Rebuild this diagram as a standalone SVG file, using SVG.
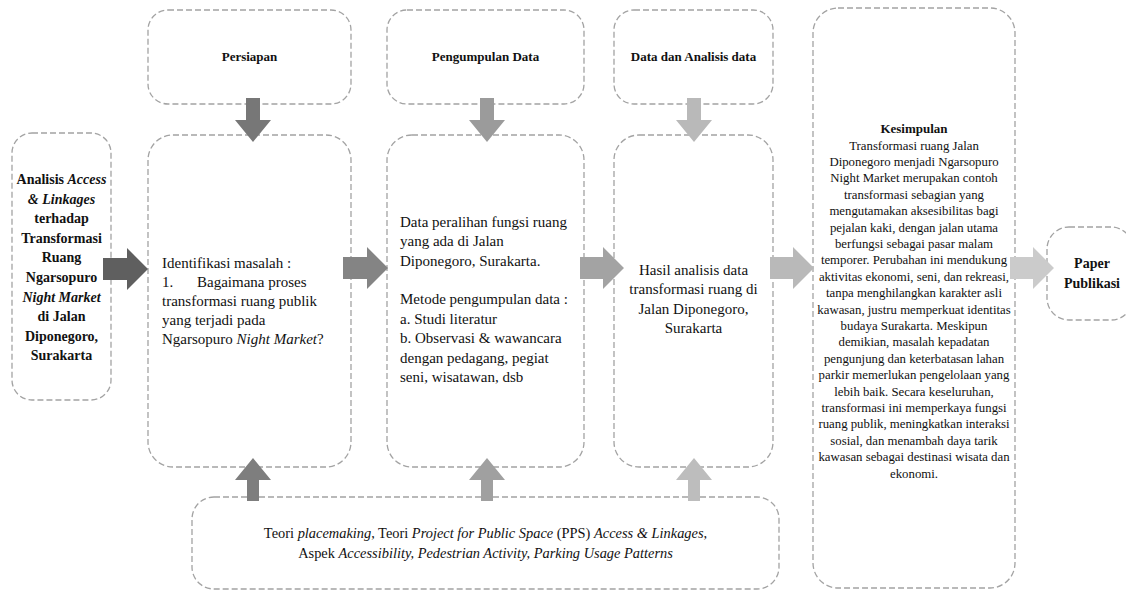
<svg xmlns="http://www.w3.org/2000/svg" width="1126" height="590" viewBox="0 0 1126 590">
<style>
.box{fill:#ffffff;stroke:#a3a3a3;stroke-width:1.3;stroke-dasharray:6,3}
.t{font-family:"Liberation Serif","Times New Roman",serif;fill:#111}
.b{font-weight:bold}
.i{font-style:italic}
.c{text-anchor:middle}
.s13{font-size:13px}
.k{font-size:12.8px}
.s14{font-size:14px}
.s15{font-size:15px}
.bt{font-size:14.4px}
</style>
<rect width="1126" height="590" fill="#ffffff"/>

<g id="node-persiapan">
<rect class="box" x="148" y="10" width="203" height="94" rx="20"/>
<text class="t b c s13" x="249.5" y="61">Persiapan</text>
</g>
<g id="node-pengumpulan">
<rect class="box" x="387" y="10" width="197" height="94" rx="20"/>
<text class="t b c s13" x="485.5" y="61">Pengumpulan Data</text>
</g>
<g id="node-analisis">
<rect class="box" x="614" y="10" width="159" height="94" rx="20"/>
<text class="t b c s13" x="693.5" y="61">Data dan Analisis data</text>
</g>

<g id="node-judul">
<rect class="box" x="12" y="133" width="99" height="267" rx="20"/>
<text class="t b c s14" x="61.5" y="184">Analisis <tspan class="i">Access</tspan></text>
<text class="t b c s14 i" x="61.5" y="203.6">&amp; Linkages</text>
<text class="t b c s14" x="61.5" y="223.2">terhadap</text>
<text class="t b c s14" x="61.5" y="242.8">Transformasi</text>
<text class="t b c s14" x="61.5" y="262.4">Ruang</text>
<text class="t b c s14" x="61.5" y="282">Ngarsopuro</text>
<text class="t b c s14 i" x="61.5" y="301.6">Night Market</text>
<text class="t b c s14" x="61.5" y="321.2">di Jalan</text>
<text class="t b c s14" x="61.5" y="340.8">Diponegoro,</text>
<text class="t b c s14" x="61.5" y="360.4">Surakarta</text>
</g>

<g id="node-identifikasi">
<rect class="box" x="148" y="135" width="203" height="332" rx="25"/>
<text class="t s15" x="162" y="268">Identifikasi masalah :</text>
<text class="t s15" y="287"><tspan x="162">1.</tspan><tspan x="197">Bagaimana proses</tspan></text>
<text class="t s15" x="162" y="306">transformasi ruang publik</text>
<text class="t s15" x="162" y="325">yang terjadi pada</text>
<text class="t s15" x="162" y="344">Ngarsopuro <tspan class="i">Night Market</tspan>?</text>
</g>

<g id="node-data">
<rect class="box" x="387" y="135" width="197" height="332" rx="25"/>
<text class="t s15" x="400" y="227">Data peralihan fungsi ruang</text>
<text class="t s15" x="400" y="246.4">yang ada di Jalan</text>
<text class="t s15" x="400" y="265.7">Diponegoro, Surakarta.</text>
<text class="t s15" x="400" y="304.4">Metode pengumpulan data :</text>
<text class="t s15" x="400" y="323.8">a. Studi literatur</text>
<text class="t s15" x="400" y="343.1">b. Observasi &amp; wawancara</text>
<text class="t s15" x="400" y="362.5">dengan pedagang, pegiat</text>
<text class="t s15" x="400" y="381.8">seni, wisatawan, dsb</text>
</g>

<g id="node-hasil">
<rect class="box" x="614" y="135" width="159" height="332" rx="25"/>
<text class="t c s15" x="693.5" y="275">Hasil analisis data</text>
<text class="t c s15" x="693.5" y="294.3">transformasi ruang di</text>
<text class="t c s15" x="693.5" y="313.6">Jalan Diponegoro,</text>
<text class="t c s15" x="693.5" y="333">Surakarta</text>
</g>

<g id="node-kesimpulan">
<rect class="box" x="813" y="8" width="202" height="580" rx="25"/>
<text class="t b c s13" x="914" y="133">Kesimpulan</text>
<g class="t c k">
<text x="914" y="149.5">Transformasi ruang Jalan</text>
<text x="914" y="165.9">Diponegoro menjadi Ngarsopuro</text>
<text x="914" y="182.3">Night Market merupakan contoh</text>
<text x="914" y="198.7">transformasi sebagian yang</text>
<text x="914" y="215.1">mengutamakan aksesibilitas bagi</text>
<text x="914" y="231.5">pejalan kaki, dengan jalan utama</text>
<text x="914" y="247.9">berfungsi sebagai pasar malam</text>
<text x="914" y="264.3">temporer. Perubahan ini mendukung</text>
<text x="914" y="280.7">aktivitas ekonomi, seni, dan rekreasi,</text>
<text x="914" y="297.1">tanpa menghilangkan karakter asli</text>
<text x="914" y="313.5">kawasan, justru memperkuat identitas</text>
<text x="914" y="329.9">budaya Surakarta. Meskipun</text>
<text x="914" y="346.3">demikian, masalah kepadatan</text>
<text x="914" y="362.7">pengunjung dan keterbatasan lahan</text>
<text x="914" y="379.1">parkir memerlukan pengelolaan yang</text>
<text x="914" y="395.5">lebih baik. Secara keseluruhan,</text>
<text x="914" y="411.9">transformasi ini memperkaya fungsi</text>
<text x="914" y="428.3">ruang publik, meningkatkan interaksi</text>
<text x="914" y="444.7">sosial, dan menambah daya tarik</text>
<text x="914" y="461.1">kawasan sebagai destinasi wisata dan</text>
<text x="914" y="477.5">ekonomi.</text>
</g>
</g>

<g id="node-paper">
<rect class="box" x="1047" y="227" width="86" height="93" rx="22"/>
<text class="t b c s14" x="1092" y="268">Paper</text>
<text class="t b c s14" x="1092" y="288">Publikasi</text>
</g>

<g id="node-teori">
<rect class="box" x="192" y="497" width="587" height="92" rx="22"/>
<text class="t c bt" x="485.5" y="538">Teori <tspan class="i">placemaking</tspan>, Teori <tspan class="i">Project for Public Space</tspan> (PPS) <tspan class="i">Access &amp; Linkages</tspan>,</text>
<text class="t c bt" x="485.5" y="558">Aspek <tspan class="i">Accessibility, Pedestrian Activity, Parking Usage Patterns</tspan></text>
</g>

<g id="connectors">
<polygon fill="#5f5f5f" points="103,258 127,258 127,248 148,269 127,290 127,280 103,280"/>
<polygon fill="#848484" points="343,257 367,257 367,247 388,268 367,289 367,279 343,279"/>
<polygon fill="#a3a3a3" points="580,257 603,257 603,247 624,268 603,289 603,279 580,279"/>
<polygon fill="#b9b9b9" points="770,257 793,257 793,247 814,268 793,289 793,279 770,279"/>
<polygon fill="#cbcbcb" points="1010,257 1033,257 1033,247 1054,268 1033,289 1033,279 1010,279"/>
<polygon fill="#777777" points="246,98 260,98 260,120 271,120 253,142 235,120 246,120"/>
<polygon fill="#9b9b9b" points="480,98 494,98 494,120 505,120 487,142 469,120 480,120"/>
<polygon fill="#b9b9b9" points="687,98 701,98 701,120 712,120 694,142 676,120 687,120"/>
<polygon fill="#7e7e7e" points="247,501 259,501 259,480 271,480 253,458 235,480 247,480"/>
<polygon fill="#a0a0a0" points="481,501 493,501 493,480 505,480 487,458 469,480 481,480"/>
<polygon fill="#bdbdbd" points="688,501 700,501 700,480 712,480 694,458 676,480 688,480"/>
</g>
</svg>
